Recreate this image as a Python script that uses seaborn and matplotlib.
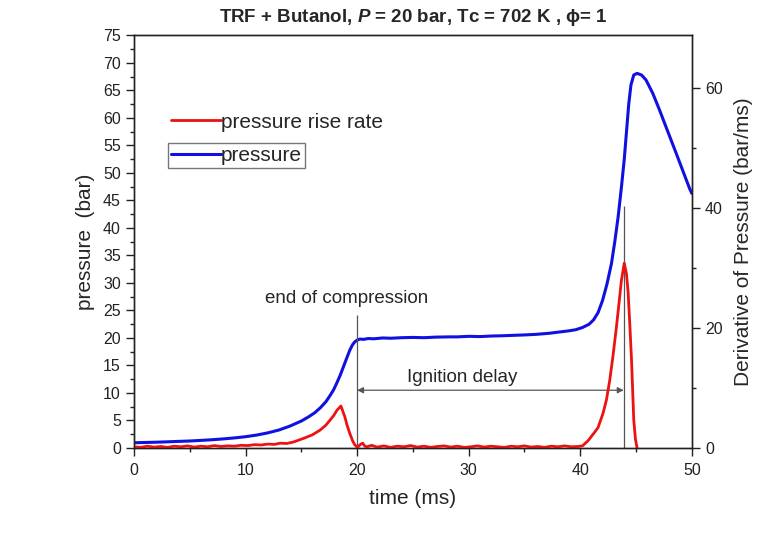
import numpy as np
import pandas as pd
import matplotlib
matplotlib.use("Agg")
import matplotlib.pyplot as plt
from matplotlib.ticker import MultipleLocator
import seaborn as sns

# ---------------- data ----------------
time_p = [0, 1, 2, 3, 4, 5, 6, 7, 8, 9, 10, 11, 12, 13, 14, 15, 15.6, 16.2, 16.7, 17.2, 17.6,
          17.9, 18.2, 18.5, 18.8, 19.1, 19.35, 19.6, 19.8, 20.0, 20.25, 20.6, 21.0, 21.5, 22.3,
          23, 24, 25, 26, 27, 28.3, 29, 30, 31, 32, 33, 34.3, 35, 36, 37.2, 38.2, 39, 39.6,
          40.2, 40.8, 41.2, 41.6, 42.0, 42.4, 42.8, 43.1, 43.4, 43.7, 43.95, 44.15, 44.35,
          44.55, 44.8, 45.1, 45.5, 45.9, 46.5, 47.1, 47.8, 48.6, 49.2, 49.8, 50]
pressure = [0.95, 1.0, 1.05, 1.12, 1.2, 1.27, 1.38, 1.5, 1.65, 1.83, 2.05, 2.35, 2.75, 3.27, 4.0,
            4.9, 5.6, 6.4, 7.3, 8.4, 9.6, 10.6, 11.9, 13.3, 14.9, 16.5, 17.8, 18.8, 19.3,
            19.6, 19.8, 19.75, 19.9, 19.85, 20.0, 19.95, 20.05, 20.1, 20.05, 20.15, 20.2, 20.2,
            20.3, 20.25, 20.35, 20.4, 20.5, 20.55, 20.65, 20.85, 21.1, 21.3, 21.5, 21.9,
            22.5, 23.3, 24.6, 26.8, 29.8, 33.5, 37.5, 42.0, 47.5, 52.5, 57.5, 62.5,
            66.0, 67.8, 68.1, 67.8, 66.9, 64.5, 61.5, 57.8, 53.6, 50.4, 47.2, 46.3]

time_r = [0, 0.6, 1.2, 1.8, 2.4, 3.0, 3.6, 4.2, 4.8, 5.4, 6.0, 6.6, 7.2, 7.8, 8.4, 9.0, 9.6,
          10.2, 10.8, 11.4, 12.0, 12.6, 13.1, 13.7, 14.3, 15.2, 16.0, 16.7, 17.2, 17.6, 17.9,
          18.2, 18.55, 18.9, 19.1, 19.35, 19.6, 19.8, 20.05, 20.3, 20.5, 20.7, 20.9, 21.3,
          21.8, 22.4, 23.0, 23.6, 24.2, 24.8, 25.4, 26.0, 26.6, 27.2, 27.8, 28.4, 29.0, 29.6,
          30.2, 30.8, 31.4, 32.0, 32.6, 33.2, 33.8, 34.4, 35.0, 35.6, 36.2, 36.8, 37.4, 38.0,
          38.6, 39.2, 39.8, 40.2, 40.7, 41.2, 41.6, 42.05, 42.35, 42.65, 42.95, 43.25, 43.5,
          43.7, 43.95, 44.15, 44.3, 44.45, 44.6, 44.8, 44.95, 45.1]
rate = [0.2, 0.1, 0.3, 0.15, 0.25, 0.1, 0.3, 0.2, 0.35, 0.15, 0.3, 0.2, 0.4, 0.25, 0.35, 0.3,
        0.45, 0.4, 0.55, 0.5, 0.65, 0.6, 0.8, 0.75, 1.0, 1.6, 2.2, 3.0, 3.8, 4.7, 5.4, 6.3,
        7.0, 5.2, 3.8, 2.4, 1.2, 0.5, 0.1, 0.6, 0.8, 0.3, 0.2, 0.45, 0.15, 0.35, 0.1, 0.3,
        0.2, 0.4, 0.15, 0.3, 0.1, 0.25, 0.35, 0.15, 0.3, 0.1, 0.2, 0.35, 0.15, 0.3, 0.2,
        0.1, 0.3, 0.2, 0.35, 0.15, 0.25, 0.1, 0.3, 0.2, 0.35, 0.2, 0.25, 0.35, 1.2, 2.4,
        3.4, 5.8, 8.0, 11.3, 15.5, 20.2, 24.5, 28.0, 30.8, 29.0, 25.8, 20.5, 14.7, 4.7,
        1.5, 0.0]

end_of_compression = 20.0
ignition_time = 43.9
arrow_level = 10.5

title = "TRF + Butanol, $P$ = 20 bar, Tc = 702 K , \u03d5= 1"

# ---------------- styling ----------------
sns.set_style("ticks")
plt.rcParams["font.family"] = ["Liberation Sans", "DejaVu Sans"]
plt.rcParams["mathtext.fontset"] = "custom"
plt.rcParams["mathtext.it"] = "Liberation Sans:italic:bold"
plt.rcParams["mathtext.rm"] = "Liberation Sans:bold"

fig = plt.figure(figsize=(7.79, 5.4), dpi=100)
ax = fig.add_axes([0.172, 0.1704, 0.716, 0.764])
ax2 = ax.twinx()

df_p = pd.DataFrame({"time": time_p, "pressure": pressure})
df_r = pd.DataFrame({"time": time_r, "rate": rate})

sns.lineplot(data=df_p, x="time", y="pressure", ax=ax, color="#1010e0", lw=2.2,
             estimator=None, sort=False, label="pressure", legend=False)
sns.lineplot(data=df_r, x="time", y="rate", ax=ax2, color="#ee1111", lw=2.0,
             estimator=None, sort=False, label="pressure rise rate", legend=False)

ax.set_xlim(0, 50)
ax.set_ylim(0, 75)
ax2.set_ylim(0, 68.75)

ax.xaxis.set_major_locator(MultipleLocator(10))
ax.xaxis.set_minor_locator(MultipleLocator(5))
ax.yaxis.set_major_locator(MultipleLocator(5))
ax.yaxis.set_minor_locator(MultipleLocator(2.5))
ax2.yaxis.set_major_locator(MultipleLocator(20))
ax2.yaxis.set_minor_locator(MultipleLocator(10))

for a in (ax, ax2):
    a.tick_params(which="major", direction="out", length=6, width=1, labelsize=11.5,
                  colors="#222222")
    a.tick_params(which="minor", direction="out", length=3, width=1, colors="#222222")
    for s in a.spines.values():
        s.set_visible(True)
        s.set_linewidth(1.0)
        s.set_color("#222222")
ax.tick_params(axis="x", pad=5)

ax.set_xlabel("time (ms)", fontsize=15, labelpad=8)
ax.set_ylabel("pressure  (bar)", fontsize=15, labelpad=6)
ax2.set_ylabel("Derivative of Pressure (bar/ms)", fontsize=15, labelpad=8)
ax.set_title(title, fontsize=13.5, fontweight="bold", pad=10)

# annotations
ax.vlines(end_of_compression, 0, 24.1, color="#555555", lw=0.9)
ax.vlines(ignition_time, 0, 44.0, color="#555555", lw=0.9)
ax.annotate("", xy=(end_of_compression, arrow_level), xytext=(ignition_time, arrow_level),
            arrowprops=dict(arrowstyle="<|-|>", color="#555555", lw=0.9,
                            mutation_scale=9, shrinkA=0, shrinkB=0))
ax.text(29.4, 12.8, "Ignition delay", fontsize=13.5, ha="center", va="center")
ax.text(19.1, 27.1, "end of compression", fontsize=13.5, ha="center", va="center")

# legends (the blue entry has its own box in the reference)
h_r, l_r = ax2.get_legend_handles_labels()
h_p, l_p = ax.get_legend_handles_labels()
leg1 = ax2.legend(h_r, l_r, loc="center left", bbox_to_anchor=(0.061, 0.790),
                  frameon=False, fontsize=15, handlelength=2.4, handletextpad=0.0,
                  borderpad=0.15, borderaxespad=0)
ax2.add_artist(leg1)
leg2 = ax2.legend(h_p, l_p, loc="center left", bbox_to_anchor=(0.061, 0.709),
                  frameon=True, fancybox=False, fontsize=15, handlelength=2.4,
                  handletextpad=0.0, borderpad=0.15, borderaxespad=0,
                  edgecolor="#777777", framealpha=1)
leg2.get_frame().set_linewidth(1.0)

fig.savefig("out.png", dpi=100)
